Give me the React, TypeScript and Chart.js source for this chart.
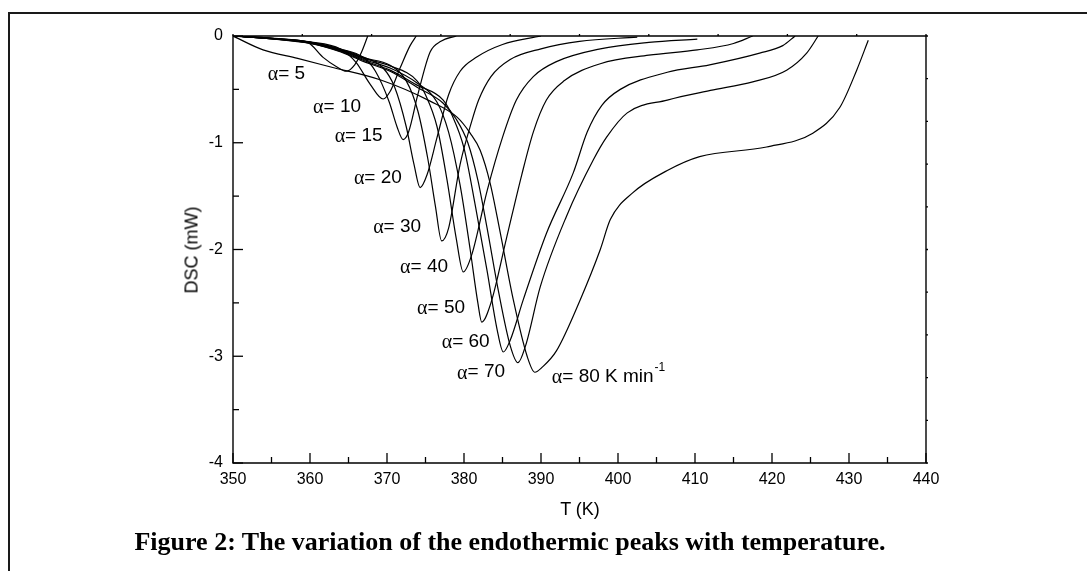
import React, { useEffect, useRef } from "react";
import { Chart, registerables } from "chart.js";

Chart.register(...registerables);

// ---- axis ticks ----
const xTickValues = [350, 360, 370, 380, 390, 400, 410, 420, 430, 440];
const xMinorTickValues = [355, 365, 375, 385, 395, 405, 415, 425, 435];
const yTickValues = [0, -1, -2, -3, -4];
const yMinorTickValues = [-0.5, -1.5, -2.5, -3.5];
const topTickValues = [350, 359, 368, 377, 386, 395, 404, 413, 422, 431, 440];
const rightTickValues = [0, -0.4, -0.8, -1.2, -1.6, -2, -2.4, -2.8, -3.2, -3.6, -4];

// ---- series (T in K, DSC in mW) ----
const t5 = [350, 354, 357, 359.6, 361.7, 363.5, 364.7, 365.8, 366.7, 367.5];
const d5 = [0, -0.02, -0.035, -0.055, -0.2, -0.29, -0.33, -0.27, -0.15, 0];

const t10 = [350, 355, 360, 363.9, 366, 367.8, 369.5, 370.4, 371.7, 373, 373.8];
const d10 = [0, -0.02, -0.055, -0.12, -0.25, -0.45, -0.59, -0.52, -0.3, -0.09, 0];

const t15 = [350, 355, 360, 364, 366.9, 368.5, 370.3, 371.3, 372.1, 372.8, 374, 375.6, 377, 379];
const d15 = [0, -0.021, -0.057, -0.122, -0.2, -0.33, -0.62, -0.85, -0.97, -0.9, -0.55, -0.15, -0.05, 0];

const t20 = [350, 355, 360, 364, 367, 369.5, 371, 372.5, 373.5, 374.3, 375.2, 376.5, 378, 379.5, 381.6, 385, 390];
const d20 = [0, -0.022, -0.058, -0.125, -0.2, -0.3, -0.48, -0.85, -1.2, -1.42, -1.3, -0.95, -0.55, -0.33, -0.2, -0.08, 0];

const t30 = [350, 355, 360, 364, 367, 370.4, 372.5, 374, 375.3, 376.3, 377.1, 378, 379.5, 381, 381.9, 383.5, 386, 390, 395, 402.5];
const d30 = [0, -0.023, -0.06, -0.13, -0.205, -0.275, -0.42, -0.7, -1.15, -1.6, -1.92, -1.8, -1.2, -0.8, -0.6, -0.38, -0.22, -0.12, -0.05, -0.01];

const t40 = [350, 355, 360, 364, 367, 370.4, 373.9, 375, 376.5, 377.8, 379, 379.9, 381, 383, 385, 386.8, 389, 392, 397.7, 404, 410.3];
const d40 = [0, -0.024, -0.062, -0.135, -0.21, -0.28, -0.42, -0.55, -0.85, -1.35, -1.9, -2.21, -2.05, -1.45, -0.95, -0.6, -0.38, -0.24, -0.12, -0.06, -0.03];

const t50 = [350, 355, 360, 364, 367, 370.4, 373.9, 376.5, 378, 379.5, 380.8, 381.8, 382.3, 383.5, 385.5, 387.5, 389, 390.7, 393, 397.7, 404, 410.3, 415, 417.5];
const d50 = [0, -0.025, -0.065, -0.14, -0.22, -0.3, -0.44, -0.62, -0.9, -1.4, -2.0, -2.5, -2.68, -2.5, -1.9, -1.3, -0.9, -0.6, -0.42, -0.26, -0.18, -0.13, -0.07, 0];

const t60 = [350, 355, 360, 364, 367, 370.4, 373.9, 377.3, 378.5, 380, 381.5, 383, 384.3, 385.1, 386, 387.7, 390.7, 394.2, 396, 397.9, 400.3, 406.4, 411.9, 418.4, 421.4, 423];
const d60 = [0, -0.026, -0.068, -0.145, -0.23, -0.32, -0.46, -0.6, -0.75, -1.05, -1.6, -2.2, -2.75, -2.96, -2.85, -2.47, -1.85, -1.28, -0.9, -0.65, -0.5, -0.34, -0.27, -0.16, -0.09, 0];

const t70 = [350, 355, 360, 364, 367, 370.4, 373.9, 377.3, 379, 380.5, 381.8, 383, 384.5, 386, 387, 388, 389.9, 393.3, 396.8, 398.5, 401.2, 406.4, 412, 417.5, 421.9, 424.5, 426];
const d70 = [0, -0.027, -0.07, -0.15, -0.24, -0.33, -0.48, -0.63, -0.78, -1.0, -1.35, -1.8, -2.4, -2.9, -3.06, -2.9, -2.35, -1.69, -1.16, -0.95, -0.72, -0.6, -0.51, -0.43, -0.32, -0.16, 0];

const t80 = [350, 353.9, 358.4, 362.7, 369.1, 375.6, 379.1, 380.8, 382.1, 383.4, 384.7, 386.4, 388.2, 389.2, 390.2, 392, 395.1, 397.7, 399, 401.9, 406.4, 410.6, 419.3, 425.3, 428.8, 431, 432.5];
const d80 = [0, -0.13, -0.21, -0.29, -0.41, -0.61, -0.76, -0.91, -1.07, -1.38, -1.84, -2.47, -3.0, -3.15, -3.1, -2.95, -2.47, -2.0, -1.72, -1.47, -1.26, -1.13, -1.04, -0.91, -0.67, -0.32, -0.04];

const seriesT = [t5, t10, t15, t20, t30, t40, t50, t60, t70, t80];
const seriesD = [d5, d10, d15, d20, d30, d40, d50, d60, d70, d80];
const rates = [5, 10, 15, 20, 30, 40, 50, 60, 70, 80];

// ---- curve labels (anchored in data coordinates: left edge, vertical middle) ----
const labelTexts = ["α= 5", "α= 10", "α= 15", "α= 20", "α= 30", "α= 40", "α= 50", "α= 60", "α= 70", "α= 80 K min"];
const labelT = [354.5, 360.4, 363.2, 365.7, 368.2, 371.7, 373.9, 377.1, 379.1, 391.4];
const labelD = [-0.35, -0.66, -0.93, -1.33, -1.79, -2.16, -2.55, -2.86, -3.15, -3.19];
const unitSuperscript = "-1";

const xTitle = "T (K)";
const yTitle = "DSC (mW)";
const caption = "Figure 2: The variation of the endothermic peaks with temperature.";

const SANS = '"Liberation Sans", Arial, sans-serif';
const SERIF = '"Liberation Serif", "Times New Roman", serif';

const frameAndTicks = {
  id: "frameAndTicks",
  afterDraw(chart: any) {
    const { ctx, chartArea: ca, scales } = chart;
    const xs = scales.x;
    const ys = scales.y;
    ctx.save();
    ctx.strokeStyle = "#000";
    ctx.lineWidth = 1.4;
    ctx.beginPath();
    ctx.rect(ca.left, ca.top, ca.right - ca.left, ca.bottom - ca.top);
    ctx.stroke();
    ctx.lineWidth = 1.3;
    const seg = (x1: number, y1: number, x2: number, y2: number) => {
      ctx.beginPath();
      ctx.moveTo(x1, y1);
      ctx.lineTo(x2, y2);
      ctx.stroke();
    };
    xTickValues.forEach((v) => {
      const p = xs.getPixelForValue(v);
      seg(p, ca.bottom, p, ca.bottom - 10);
    });
    xMinorTickValues.forEach((v) => {
      const p = xs.getPixelForValue(v);
      seg(p, ca.bottom, p, ca.bottom - 6);
    });
    yTickValues.forEach((v) => {
      const p = ys.getPixelForValue(v);
      seg(ca.left, p, ca.left + 10, p);
    });
    yMinorTickValues.forEach((v) => {
      const p = ys.getPixelForValue(v);
      seg(ca.left, p, ca.left + 6, p);
    });
    topTickValues.forEach((v) => {
      const p = xs.getPixelForValue(v);
      seg(p, ca.top, p, ca.top - 2);
    });
    rightTickValues.forEach((v) => {
      const p = ys.getPixelForValue(v);
      seg(ca.right, p, ca.right + 2, p);
    });
    ctx.restore();
  },
};

const rateLabels = {
  id: "rateLabels",
  afterDatasetsDraw(chart: any) {
    const { ctx, scales } = chart;
    const xs = scales.x;
    const ys = scales.y;
    ctx.save();
    ctx.fillStyle = "#000";
    ctx.textBaseline = "middle";
    ctx.textAlign = "left";
    labelTexts.forEach((txt, i) => {
      const px = xs.getPixelForValue(labelT[i]);
      const py = ys.getPixelForValue(labelD[i]);
      const greek = txt.slice(0, 1);
      const rest = txt.slice(1);
      ctx.font = "20px " + SERIF;
      ctx.fillText(greek, px, py + 1);
      const gw = ctx.measureText(greek).width;
      ctx.font = "19px " + SANS;
      ctx.fillText(rest, px + gw, py);
      if (i === labelTexts.length - 1) {
        const w = ctx.measureText(rest).width;
        ctx.font = "12px " + SANS;
        ctx.fillText(unitSuperscript, px + gw + w + 1, py - 9);
      }
    });
    ctx.restore();
  },
};

export default function App() {
  const canvasRef = useRef<HTMLCanvasElement | null>(null);

  useEffect(() => {
    const canvas = canvasRef.current;
    if (!canvas) return;
    const datasets = seriesT.map((ts, i) => ({
      label: "α = " + rates[i],
      data: ts.map((t, j) => ({ x: t, y: seriesD[i][j] })),
      borderColor: "#000",
      borderWidth: 1.2,
      pointRadius: 0,
      showLine: true,
      fill: false,
      cubicInterpolationMode: "monotone" as const,
    }));
    const chart = new Chart(canvas, {
      type: "scatter",
      data: { datasets },
      options: {
        animation: false,
        responsive: false,
        devicePixelRatio: 1,
        layout: { padding: 0 },
        plugins: {
          legend: { display: false },
          tooltip: { enabled: false },
          title: { display: false },
        },
        scales: {
          x: {
            type: "linear",
            position: "bottom",
            min: 350,
            max: 440,
            afterBuildTicks: (s: any) => {
              s.ticks = xTickValues.map((v) => ({ value: v }));
            },
            afterFit: (s: any) => {
              s.height = 108;
            },
            ticks: {
              color: "#000",
              font: { family: SANS, size: 16 },
              padding: 7,
              maxRotation: 0,
              autoSkip: false,
            },
            grid: { display: false, drawTicks: false },
            border: { display: false },
          },
          x2: {
            type: "linear",
            position: "top",
            min: 350,
            max: 440,
            ticks: { display: false },
            afterFit: (s: any) => {
              s.height = 36;
            },
            grid: { display: false, drawTicks: false },
            border: { display: false },
          },
          y: {
            type: "linear",
            position: "left",
            min: -4,
            max: 0,
            afterBuildTicks: (s: any) => {
              s.ticks = yTickValues.map((v) => ({ value: v }));
            },
            afterFit: (s: any) => {
              s.width = 233;
            },
            ticks: {
              color: "#000",
              font: { family: SANS, size: 16 },
              padding: 10,
              autoSkip: false,
            },
            grid: { display: false, drawTicks: false },
            border: { display: false },
          },
          y2: {
            type: "linear",
            position: "right",
            min: -4,
            max: 0,
            ticks: { display: false },
            afterFit: (s: any) => {
              s.width = 161;
            },
            grid: { display: false, drawTicks: false },
            border: { display: false },
          },
        },
      },
      plugins: [frameAndTicks, rateLabels],
    });
    return () => chart.destroy();
  }, []);

  return (
    <div
      style={{
        position: "fixed",
        left: 0,
        top: 0,
        width: 1087,
        height: 571,
        background: "#fff",
        overflow: "hidden",
      }}
    >
      <div
        style={{
          position: "absolute",
          left: 8,
          top: 12,
          width: 1100,
          height: 600,
          borderLeft: "2px solid #1a1a1a",
          borderTop: "2px solid #1a1a1a",
        }}
      />
      <canvas
        ref={canvasRef}
        width={1087}
        height={571}
        style={{ position: "absolute", left: 0, top: 0, width: 1087, height: 571 }}
      />
      <div
        style={{
          position: "absolute",
          left: 192,
          top: 250,
          transform: "translate(-50%, -50%) rotate(-90deg)",
          fontFamily: SANS,
          fontSize: 18,
          whiteSpace: "nowrap",
          color: "#000",
        }}
      >
        {yTitle}
      </div>
      <div
        style={{
          position: "absolute",
          left: 580,
          top: 509,
          transform: "translate(-50%, -50%)",
          fontFamily: SANS,
          fontSize: 18,
          whiteSpace: "nowrap",
          color: "#000",
        }}
      >
        {xTitle}
      </div>
      <div
        style={{
          position: "absolute",
          left: 510,
          top: 542,
          transform: "translate(-50%, -50%)",
          fontFamily: SERIF,
          fontWeight: "bold",
          fontSize: 26,
          whiteSpace: "nowrap",
          color: "#000",
        }}
      >
        {caption}
      </div>
    </div>
  );
}
